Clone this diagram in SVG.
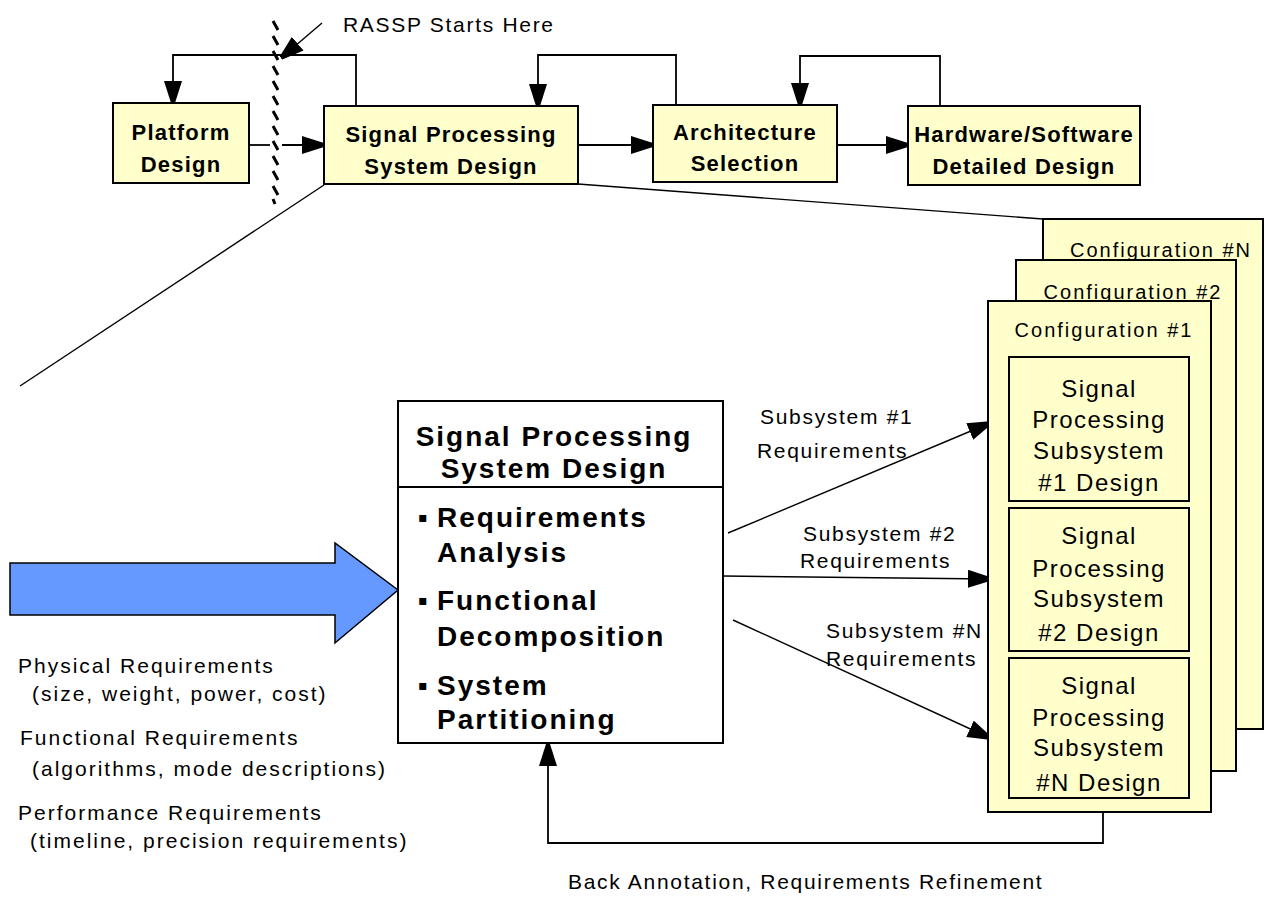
<svg xmlns="http://www.w3.org/2000/svg" width="1267" height="903" viewBox="0 0 1267 903">
<defs>
<style>
.box{fill:#FFFFCC;stroke:#000;stroke-width:2}
.wbox{fill:#FFFFFF;stroke:#000;stroke-width:2}
.ln{fill:none;stroke:#000;stroke-width:1.8}
.thin{fill:none;stroke:#000;stroke-width:1.4}
.b22{font-family:"Liberation Sans",Arial,sans-serif;font-weight:bold;font-size:22px;letter-spacing:1.2px;text-anchor:middle;fill:#000}
.b28{font-family:"Liberation Sans",Arial,sans-serif;font-weight:bold;font-size:28px;letter-spacing:2px;fill:#000}
.r21{font-family:"Liberation Sans",Arial,sans-serif;font-size:21px;letter-spacing:2px;fill:#000}
.r21s{font-family:"Liberation Sans",Arial,sans-serif;font-size:21px;letter-spacing:1.7px;fill:#000}
.r20c{font-family:"Liberation Sans",Arial,sans-serif;font-size:20px;letter-spacing:2px;text-anchor:middle;fill:#000}
.r24c{font-family:"Liberation Sans",Arial,sans-serif;font-size:24px;letter-spacing:1.5px;text-anchor:middle;fill:#000}
</style>
<marker id="ah" markerWidth="22" markerHeight="18" refX="22" refY="9" orient="auto" markerUnits="userSpaceOnUse">
<path d="M0,0 L22,7 L22,11 L0,18 z" fill="#000"/>
</marker>
</defs>
<rect width="1267" height="903" fill="#FFFFFF"/>

<g id="connectors">
<!-- expansion lines -->
<line class="thin" x1="324" y1="185" x2="20" y2="386"/>
<line class="thin" x1="578" y1="184" x2="1043" y2="219"/>
<!-- top forward arrows -->
<line class="ln" x1="249" y1="145" x2="270" y2="145"/>
<line class="ln" x1="282" y1="145" x2="324" y2="145" marker-end="url(#ah)"/>
<line class="ln" x1="578" y1="145" x2="653" y2="145" marker-end="url(#ah)"/>
<line class="ln" x1="837" y1="145" x2="908" y2="145" marker-end="url(#ah)"/>
<!-- top feedback loops -->
<path class="ln" d="M356,106 V55 H173 V103" marker-end="url(#ah)"/>
<path class="ln" d="M676,105 V55 H538 V106" marker-end="url(#ah)"/>
<path class="ln" d="M940,106 V56 H800 V105" marker-end="url(#ah)"/>
<!-- RASSP pointer -->
<line class="thin" x1="322" y1="23" x2="281" y2="58" marker-end="url(#ah)"/>
<!-- hatched boundary -->
<g stroke="#000" stroke-width="3" stroke-linecap="butt">
<path d="M273,21 l5,9 M273,36 l5,9 M273,51 l5,9 M273,66 l5,9 M273,81 l5,9 M273,96 l5,9 M273,111 l5,9 M273,126 l5,9 M273,141 l5,9 M273,156 l5,9 M273,171 l5,9 M273,186 l5,9 M273,199 l2,5"/>
</g>
<!-- subsystem arrows -->
<line class="thin" x1="728" y1="533" x2="990" y2="423" marker-end="url(#ah)"/>
<line class="thin" x1="723" y1="576" x2="990" y2="579" marker-end="url(#ah)"/>
<line class="thin" x1="733" y1="620" x2="990" y2="738" marker-end="url(#ah)"/>
<!-- back annotation loop -->
<path class="ln" d="M1103,812 V843 H548 V744" marker-end="url(#ah)"/>
</g>

<g id="blue-arrow">
<path d="M10,563 H335 V543 L398,590 L335,643 V615 H10 Z" fill="#6699FF" stroke="#000" stroke-width="1.5"/>
</g>

<g id="platform-design">
<rect class="box" x="113" y="103" width="136" height="80"/>
<text class="b22" x="181" y="140">Platform</text>
<text class="b22" x="181" y="172">Design</text>
</g>

<g id="sps-design-top">
<rect class="box" x="324" y="106" width="254" height="78"/>
<text class="b22" x="451" y="142">Signal Processing</text>
<text class="b22" x="451" y="174">System Design</text>
</g>

<g id="architecture-selection">
<rect class="box" x="653" y="105" width="184" height="77"/>
<text class="b22" x="745" y="140">Architecture</text>
<text class="b22" x="745" y="171">Selection</text>
</g>

<g id="hw-sw-design">
<rect class="box" x="908" y="106" width="232" height="79"/>
<text class="b22" x="1024" y="142">Hardware/Software</text>
<text class="b22" x="1024" y="174">Detailed Design</text>
</g>

<g id="rassp-label">
<text class="r21s" x="343" y="32">RASSP Starts Here</text>
</g>

<g id="sps-design-main">
<rect class="wbox" x="398" y="401" width="325" height="342"/>
<line class="ln" x1="398" y1="487" x2="723" y2="487"/>
<text class="b28" x="554" y="446" text-anchor="middle">Signal Processing</text>
<text class="b28" x="554" y="478" text-anchor="middle">System Design</text>
<text class="b28" x="418" y="527" font-size="18">▪</text>
<text class="b28" x="437" y="527">Requirements</text>
<text class="b28" x="437" y="562">Analysis</text>
<text class="b28" x="418" y="610" font-size="18">▪</text>
<text class="b28" x="437" y="610">Functional</text>
<text class="b28" x="437" y="646">Decomposition</text>
<text class="b28" x="418" y="695" font-size="18">▪</text>
<text class="b28" x="437" y="695">System</text>
<text class="b28" x="437" y="729">Partitioning</text>
</g>

<g id="requirements-inputs">
<text class="r21" x="18" y="673">Physical Requirements</text>
<text class="r21" x="32" y="701">(size, weight, power, cost)</text>
<text class="r21" x="20" y="745">Functional Requirements</text>
<text class="r21" x="32" y="776">(algorithms, mode descriptions)</text>
<text class="r21" x="18" y="820">Performance Requirements</text>
<text class="r21" x="30" y="848">(timeline, precision requirements)</text>
</g>

<g id="subsystem-labels">
<text class="r21s" x="760" y="424">Subsystem #1</text>
<text class="r21s" x="757" y="458">Requirements</text>
<text class="r21s" x="803" y="541">Subsystem #2</text>
<text class="r21s" x="800" y="568">Requirements</text>
<text class="r21s" x="826" y="638">Subsystem #N</text>
<text class="r21s" x="826" y="666">Requirements</text>
</g>

<g id="config-n">
<rect class="box" x="1043" y="219" width="220" height="510"/>
<text class="r20c" x="1161" y="257">Configuration #N</text>
</g>
<g id="config-2">
<rect class="box" x="1016" y="260" width="220" height="511"/>
<text class="r20c" x="1133" y="299">Configuration #2</text>
</g>
<g id="config-1">
<rect class="box" x="988" y="301" width="223" height="511"/>
<text class="r20c" x="1104" y="337">Configuration #1</text>
</g>

<g id="subsystem-1">
<rect class="box" x="1009" y="357" width="180" height="144"/>
<text class="r24c" x="1099" y="397">Signal</text>
<text class="r24c" x="1099" y="428">Processing</text>
<text class="r24c" x="1099" y="459">Subsystem</text>
<text class="r24c" x="1099" y="491">#1 Design</text>
</g>
<g id="subsystem-2">
<rect class="box" x="1009" y="508" width="180" height="143"/>
<text class="r24c" x="1099" y="544">Signal</text>
<text class="r24c" x="1099" y="577">Processing</text>
<text class="r24c" x="1099" y="607">Subsystem</text>
<text class="r24c" x="1099" y="641">#2 Design</text>
</g>
<g id="subsystem-n">
<rect class="box" x="1009" y="658" width="180" height="140"/>
<text class="r24c" x="1099" y="694">Signal</text>
<text class="r24c" x="1099" y="726">Processing</text>
<text class="r24c" x="1099" y="756">Subsystem</text>
<text class="r24c" x="1099" y="791">#N Design</text>
</g>

<g id="back-annotation-label">
<text class="r21s" x="568" y="889">Back Annotation, Requirements Refinement</text>
</g>
</svg>
